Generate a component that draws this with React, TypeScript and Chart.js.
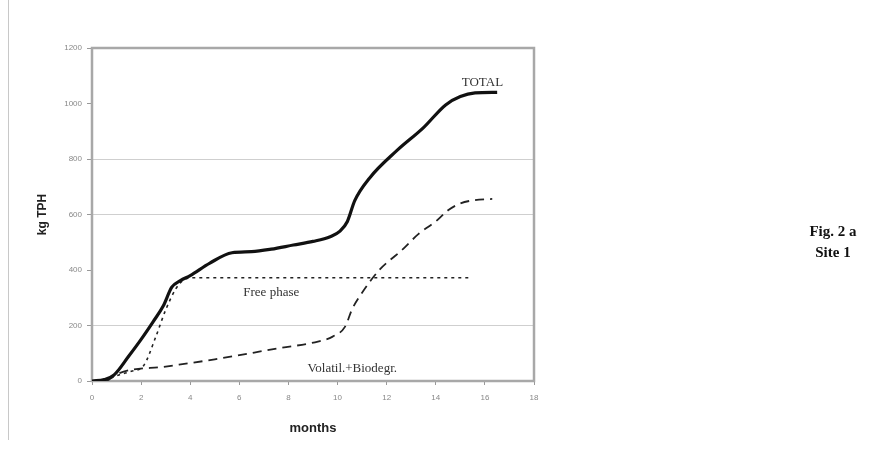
import React, { useEffect, useRef } from "react";
import { Chart, registerables } from "chart.js";

Chart.register(...registerables);

const xTicks = [0, 2, 4, 6, 8, 10, 12, 14, 16, 18];
const yTicks = [0, 200, 400, 600, 800, 1000, 1200];

const totalMonths = [0, 0.5, 0.9, 1.5, 2.0, 2.5, 2.9, 3.25, 3.6, 4.0, 4.8, 5.7, 6.5, 7.3, 8.2, 9.0, 9.7, 10.1, 10.4, 10.7, 11.3, 12.4, 13.5, 14.4, 15.0, 15.6, 16.5];
const totalValues = [0, 5, 22, 90, 150, 215, 270, 338, 362, 380, 425, 462, 466, 475, 490, 503, 520, 540, 575, 650, 731, 829, 913, 995, 1025, 1038, 1040];

const freeMonths = [0.5, 1.1, 1.6, 2.1, 2.6, 3.0, 3.4, 3.7, 4.2, 15.4];
const freeValues = [0, 22, 35, 55, 160, 256, 330, 362, 372, 372];

const volMonths = [0.6, 1.1, 3.0, 5.0, 7.6, 9.2, 9.8, 10.3, 10.6, 10.9, 11.7, 12.6, 13.3, 14.0, 14.5, 15.0, 15.6, 16.3];
const volValues = [0, 28, 52, 78, 118, 142, 160, 195, 260, 305, 400, 470, 530, 575, 615, 640, 652, 656];

const seriesLabels = ["TOTAL", "Free phase", "Volatil.+Biodegr."];
const labelAnchors = [
  { text: "TOTAL", x: 15.9, y: 1075 },
  { text: "Free phase", x: 7.3, y: 320 },
  { text: "Volatil.+Biodegr.", x: 10.6, y: 44 },
];

function toXY(xs: number[], ys: number[]) {
  return xs.map((x, i) => ({ x, y: ys[i] }));
}

const frameAndLabels = {
  id: "frameAndLabels",
  beforeDatasetsDraw(chart: any) {
    const { ctx, chartArea } = chart;
    ctx.save();
    ctx.strokeStyle = "#a8a8a8";
    ctx.lineWidth = 2.5;
    ctx.strokeRect(chartArea.left, chartArea.top, chartArea.right - chartArea.left, chartArea.bottom - chartArea.top);
    ctx.restore();
  },
  afterDatasetsDraw(chart: any) {
    const { ctx, scales } = chart;
    ctx.save();
    ctx.fillStyle = "#333";
    ctx.font = "13px 'Liberation Serif', serif";
    ctx.textAlign = "center";
    ctx.textBaseline = "middle";
    labelAnchors.forEach((a) => {
      ctx.fillText(a.text, scales.x.getPixelForValue(a.x), scales.y.getPixelForValue(a.y));
    });
    ctx.restore();
  },
};

export default function App() {
  const ref = useRef<HTMLCanvasElement>(null);
  useEffect(() => {
    if (!ref.current) return;
    const chart = new Chart(ref.current, {
      type: "line",
      data: {
        datasets: [
          {
            label: seriesLabels[0],
            data: toXY(totalMonths, totalValues),
            borderColor: "#111",
            borderWidth: 3.2,
            pointRadius: 0,
            cubicInterpolationMode: "monotone",
            fill: false,
          },
          {
            label: seriesLabels[1],
            data: toXY(freeMonths, freeValues),
            borderColor: "#222",
            borderWidth: 1.6,
            borderDash: [3, 4],
            pointRadius: 0,
            cubicInterpolationMode: "monotone",
            fill: false,
          },
          {
            label: seriesLabels[2],
            data: toXY(volMonths, volValues),
            borderColor: "#222",
            borderWidth: 1.8,
            borderDash: [9, 6],
            pointRadius: 0,
            cubicInterpolationMode: "monotone",
            fill: false,
          },
        ],
      },
      options: {
        responsive: false,
        animation: false,
        layout: { padding: { left: 35, right: 357, top: 48, bottom: 18 } },
        plugins: { legend: { display: false }, tooltip: { enabled: false } },
        scales: {
          x: {
            type: "linear",
            min: 0,
            max: 18,
            afterBuildTicks: (axis: any) => {
              axis.ticks = xTicks.map((v) => ({ value: v }));
            },
            afterFit: (axis: any) => {
              axis.height = 60;
            },
            grid: { display: true, drawOnChartArea: false, drawTicks: true, tickLength: 4, color: "#999" },
            border: { color: "#a8a8a8", width: 2 },
            ticks: {
              color: "#888",
              font: { family: "'Liberation Sans', Arial", size: 8 },
              padding: 8,
              maxRotation: 0,
              callback: (v: any) => String(v),
            },
            title: {
              display: true,
              text: "months",
              color: "#222",
              font: { family: "'Liberation Sans', Arial", size: 13, weight: "bold" },
              padding: { top: 6, bottom: 5 },
            },
          },
          y: {
            min: 0,
            max: 1200,
            afterBuildTicks: (axis: any) => {
              axis.ticks = yTicks.map((v) => ({ value: v }));
            },
            afterFit: (axis: any) => {
              axis.width = 57;
            },
            grid: {
              color: (c: any) => {
                const v = c.tick ? c.tick.value : 0;
                return v === 200 || v === 600 || v === 800 ? "#cfcfcf" : "rgba(0,0,0,0)";
              },
              tickColor: "#999",
              tickLength: 5,
              lineWidth: 1,
            },
            border: { color: "#a8a8a8", width: 2 },
            ticks: {
              color: "#888",
              font: { family: "'Liberation Sans', Arial", size: 8 },
              padding: 5,
              callback: (v: any) => String(v),
            },
            title: {
              display: true,
              text: "kg TPH",
              color: "#222",
              font: { family: "'Liberation Sans', Arial", size: 12, weight: "bold" },
              padding: { top: 0, bottom: 4 },
            },
          },
        },
      } as any,
      plugins: [frameAndLabels],
    });
    return () => chart.destroy();
  }, []);

  return (
    <div style={{ position: "fixed", left: 0, top: 0, width: 891, height: 459, background: "#fff" }}>
      <div style={{ position: "absolute", left: 8, top: 0, width: 1, height: 440, background: "#c8c8c8" }} />
      <canvas ref={ref} width={891} height={459} style={{ position: "absolute", left: 0, top: 0 }} />
      <div
        style={{
          position: "absolute",
          left: 780,
          top: 221,
          width: 106,
          textAlign: "center",
          fontFamily: "'Liberation Serif', serif",
          fontWeight: "bold",
          fontSize: 15,
          lineHeight: "21px",
          color: "#111",
        }}
      >
        Fig. 2 a
        <br />
        Site 1
      </div>
    </div>
  );
}
